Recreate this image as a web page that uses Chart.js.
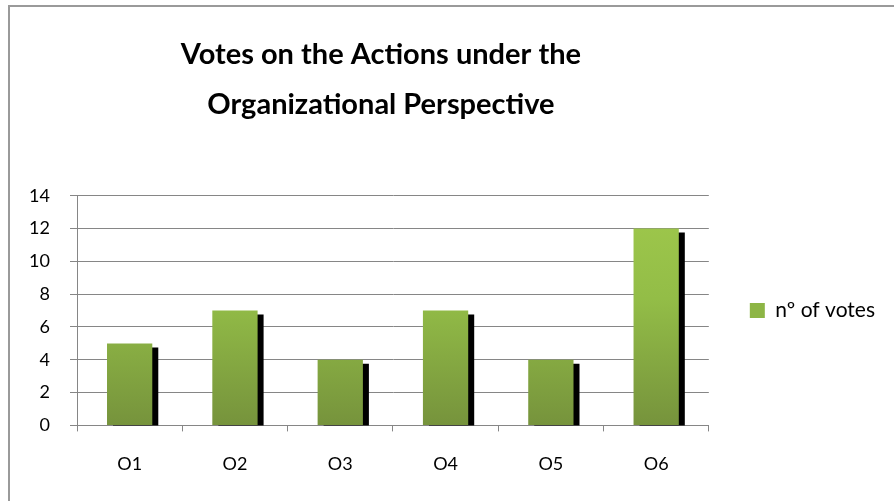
<!DOCTYPE html>
<html>
<head>
<meta charset="utf-8">
<script src="https://cdn.jsdelivr.net/npm/chart.js@4/dist/chart.umd.min.js"></script>
<style>
html,body{margin:0;padding:0;background:#fff;}
#wrap{position:absolute;left:0;top:0;width:894px;height:501px;}
</style>
</head>
<body>
<div id="wrap"><canvas id="c" width="894" height="501"></canvas></div>
<script>
const categories = ["O1", "O2", "O3", "O4", "O5", "O6"];
const votes = [5, 7, 4, 7, 4, 12];
const seriesLabel = "nº of votes";
const titleLines = ["Votes on the Actions under the", "Organizational Perspective"];

const FONT = "Lato, 'Open Sans', sans-serif";

function barGradient(ctx) {
  const chart = ctx.chart;
  const area = chart.chartArea;
  if (!area) return '#9bbb59';
  const g = chart.ctx.createLinearGradient(0, area.top, 0, area.bottom);
  g.addColorStop(0, '#a0c94c');
  g.addColorStop(0.45, '#93bd47');
  g.addColorStop(1, '#76933c');
  return g;
}

const frame = {
  id: 'frame',
  beforeDraw(chart) {
    const c = chart.ctx;
    c.save();
    c.strokeStyle = '#9a9a9a';
    c.lineWidth = 2;
    c.beginPath();
    c.moveTo(9, 510);
    c.lineTo(9, 6);
    c.lineTo(900, 6);
    c.stroke();
    c.restore();
  }
};

const titleShift = {
  id: 'titleShift',
  afterLayout(chart) {
    const t = chart.titleBlock;
    if (t) { t.left -= 12; t.right -= 12; }
  }
};

const shadow = {
  id: 'barShadow',
  beforeDatasetsDraw(chart) {
    const c = chart.ctx;
    c.save();
    c.shadowColor = '#000000';
    c.shadowOffsetX = 6;
    c.shadowOffsetY = 4;
    c.shadowBlur = 0;
  },
  afterDatasetsDraw(chart) {
    chart.ctx.restore();
  }
};

new Chart(document.getElementById('c'), {
  type: 'bar',
  data: {
    labels: categories,
    datasets: [{
      label: seriesLabel,
      data: votes,
      backgroundColor: barGradient,
      borderWidth: 0,
      barPercentage: 0.86,
      categoryPercentage: 0.5
    }]
  },
  options: {
    responsive: false,
    animation: false,
    devicePixelRatio: 1,
    layout: { padding: { left: 10, right: 9, top: 30, bottom: 4 } },
    plugins: {
      title: {
        display: true,
        fullSize: false,
        text: titleLines,
        color: '#000',
        font: { family: FONT, size: 29, weight: 'bold', lineHeight: 1.72 },
        padding: { top: 0, bottom: 66 },
        align: 'center'
      },
      legend: {
        display: true,
        fullSize: false,
        position: 'right',
        align: 'center',
        labels: {
          color: '#000',
          font: { family: FONT, size: 21 },
          boxWidth: 15,
          boxHeight: 15,
          padding: 41,
          generateLabels(chart) {
            const fill = '#8db545';
            return [{
              text: seriesLabel,
              fillStyle: fill,
              strokeStyle: fill,
              lineWidth: 0,
              hidden: false,
              datasetIndex: 0
            }];
          }
        }
      },
      tooltip: { enabled: false }
    },
    scales: {
      x: {
        offset: true,
        grid: {
          offset: true,
          drawOnChartArea: false,
          drawTicks: true,
          tickLength: 6,
          color: '#868686'
        },
        border: { color: '#868686', width: 1 },
        ticks: {
          color: '#000',
          font: { family: FONT, size: 18 },
          padding: 22
        }
      },
      y: {
        min: 0,
        max: 14,
        ticks: {
          stepSize: 2,
          color: '#000',
          font: { family: FONT, size: 18 },
          padding: 20
        },
        afterFit(scale) {
          scale.width = 67;
        },
        grid: {
          color: '#868686',
          tickLength: 7,
          drawTicks: true
        },
        border: { color: '#868686', width: 1 }
      }
    }
  },
  plugins: [frame, titleShift, shadow]
});
</script>
</body>
</html>
